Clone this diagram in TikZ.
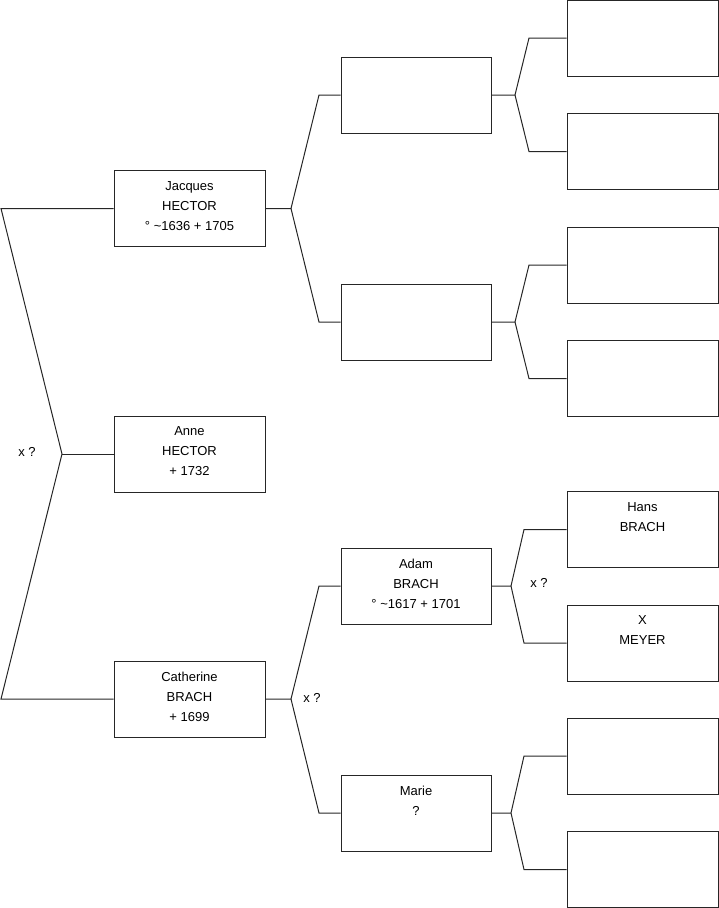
\documentclass[tikz,border=0pt]{standalone}
\usepackage{fontspec}
\setmainfont{Liberation Sans}
\begin{document}
\begin{tikzpicture}[x=1pt,y=-1pt,
  person/.style={draw=black!85, line width=1pt, rectangle, minimum width=151pt, minimum height=76pt, inner sep=0pt, fill=white},
  ptext/.style={anchor=north, align=center, font=\fontsize{13}{20}\selectfont, inner sep=0pt},
  conn/.style={draw=black!85, line width=1pt},
  xq/.style={font=\fontsize{13}{14}\selectfont, inner sep=0pt}]
\useasboundingbox (0,0) rectangle (719,908);
% level 1
\node[person] (jacques) at (189.5,208.5) {};
\node[person] (anne) at (189.5,454) {};
\node[person] (catherine) at (189.5,699) {};
% level 2
\node[person, minimum width=150pt] (pa) at (416,95) {};
\node[person, minimum width=150pt] (pb) at (416,322) {};
\node[person, minimum width=150pt] (adam) at (416,586) {};
\node[person, minimum width=150pt] (marie) at (416,813) {};
% level 3
\node[person] (t1) at (642.5,38) {};
\node[person] (t2) at (642.5,151.5) {};
\node[person] (t3) at (642.5,265) {};
\node[person] (t4) at (642.5,378.5) {};
\node[person] (hans) at (642.5,529.5) {};
\node[person] (meyer) at (642.5,643) {};
\node[person] (t7) at (642.5,756) {};
\node[person] (t8) at (642.5,869.5) {};
% texts
\node[ptext] (jacquesT) at ([yshift=-11pt]jacques.north) {Jacques\\HECTOR\\° \textasciitilde1636 + 1705};
\node[ptext] (anneT) at ([yshift=-11pt]anne.north) {Anne\\HECTOR\\+ 1732};
\node[ptext] (catherineT) at ([yshift=-11pt]catherine.north) {Catherine\\BRACH\\+ 1699};
\node[ptext] (adamT) at ([yshift=-11pt]adam.north) {Adam\\BRACH\\° \textasciitilde1617 + 1701};
\node[ptext] (marieT) at ([yshift=-11pt]marie.north) {Marie\\?};
\node[ptext] (hansT) at ([yshift=-11pt]hans.north) {Hans\\BRACH};
\node[ptext] (meyerT) at ([yshift=-11pt]meyer.north) {X\\MEYER};
% coordinates
\coordinate (l1) at (1,208.5);
\coordinate (l2) at (1,699);
\coordinate (v0) at (62,454);
\coordinate (vj) at (291,208.5);
\coordinate (vja) at (319,95);
\coordinate (vjb) at (319,322);
\coordinate (vc) at (291,699);
\coordinate (vca) at (319,586);
\coordinate (vcb) at (319,813);
\coordinate (va) at (515,95);
\coordinate (vaa) at (529,38);
\coordinate (vab) at (529,151.5);
\coordinate (vb) at (515,322);
\coordinate (vba) at (529,265);
\coordinate (vbb) at (529,378.5);
\coordinate (vd) at (511,586);
\coordinate (vda) at (524,529.5);
\coordinate (vdb) at (524,643);
\coordinate (vm) at (511,813);
\coordinate (vma) at (524,756);
\coordinate (vmb) at (524,869.5);
% connectors
\draw[conn] (jacques.west) -- (l1) -- (v0) -- (l2) -- (catherine.west);
\draw[conn] (v0) -- (anne.west);
\draw[conn] (jacques.east) -- (vj) -- (vja) -- (pa.west);
\draw[conn] (vj) -- (vjb) -- (pb.west);
\draw[conn] (catherine.east) -- (vc) -- (vca) -- (adam.west);
\draw[conn] (vc) -- (vcb) -- (marie.west);
\draw[conn] (pa.east) -- (va) -- (vaa) -- (t1.west);
\draw[conn] (va) -- (vab) -- (t2.west);
\draw[conn] (pb.east) -- (vb) -- (vba) -- (t3.west);
\draw[conn] (vb) -- (vbb) -- (t4.west);
\draw[conn] (adam.east) -- (vd) -- (vda) -- (hans.west);
\draw[conn] (vd) -- (vdb) -- (meyer.west);
\draw[conn] (marie.east) -- (vm) -- (vma) -- (t7.west);
\draw[conn] (vm) -- (vmb) -- (t8.west);
% labels
\node[xq] (x1) at (27,452) {x ?};
\node[xq] (x2) at (312,698) {x ?};
\node[xq] (x3) at (539,583) {x ?};
\end{tikzpicture}
\end{document}
